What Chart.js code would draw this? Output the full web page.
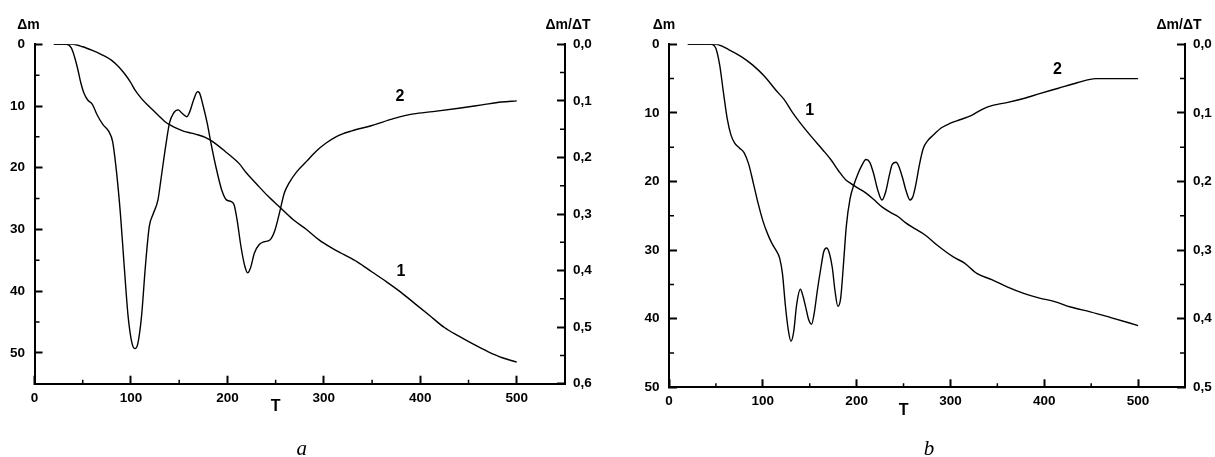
<!DOCTYPE html>
<html>
<head>
<meta charset="utf-8">
<script src="https://cdn.jsdelivr.net/npm/chart.js@4.4.1/dist/chart.umd.min.js"></script>
<style>
  body { margin: 0; background: #fff; width: 1215px; height: 457px; overflow: hidden; position: relative; }
  canvas { position: absolute; top: 0; }
</style>
</head>
<body>
<canvas id="chartA" width="610" height="457" style="left:0"></canvas>
<canvas id="chartB" width="605" height="457" style="left:610px"></canvas>
<script>
// ---- panel a ----
const tgTempA = [20, 40, 50, 60, 70, 80, 87, 93, 99, 105, 111, 117, 123, 129, 135, 141, 147, 155, 163, 170,
  177, 184, 191, 198, 205, 212, 220, 230, 242, 255, 268, 282, 295, 308, 321, 335, 350, 365, 380, 395,
  410, 425, 440, 455, 470, 485, 500];
const tgMassA = [0, 0, 0.4, 1.0, 1.7, 2.6, 3.6, 4.7, 6.0, 7.6, 8.8, 9.8, 10.7, 11.6, 12.5, 13.1, 13.6, 14.1, 14.4, 14.7,
  15.1, 15.7, 16.5, 17.4, 18.3, 19.3, 20.9, 22.6, 24.6, 26.5, 28.4, 30.0, 31.7, 33.0, 34.1, 35.3, 36.9, 38.5, 40.2, 42.1,
  44.0, 45.9, 47.3, 48.6, 49.8, 50.8, 51.5];
const dtgTempA = [20, 33, 38, 42, 45, 48, 51, 55, 60, 65, 71, 77, 81, 85, 89, 93, 97, 101, 104, 107,
  111, 115, 119, 123, 128, 131, 136, 140, 144, 149, 153, 158, 161, 165, 169, 171, 175, 179, 183, 188,
  194, 199, 204, 207, 210, 214, 218, 221, 224, 228, 233, 238, 244, 249, 254, 259, 264, 272, 282, 292,
  302, 313, 329, 349, 373, 393, 413, 440, 464, 484, 500];
const dtgRateA = [0, 0, 0.006, 0.025, 0.045, 0.068, 0.085, 0.098, 0.106, 0.125, 0.142, 0.154, 0.172, 0.225, 0.298, 0.392, 0.48, 0.528, 0.538, 0.53,
  0.48, 0.392, 0.322, 0.30, 0.275, 0.24, 0.18, 0.139, 0.122, 0.116, 0.122, 0.128, 0.119, 0.098, 0.084, 0.086, 0.11, 0.139, 0.175, 0.216,
  0.257, 0.275, 0.278, 0.284, 0.31, 0.357, 0.392, 0.404, 0.395, 0.369, 0.354, 0.349, 0.346, 0.33, 0.298, 0.263, 0.245, 0.225, 0.207, 0.189,
  0.175, 0.163, 0.153, 0.144, 0.131, 0.123, 0.119, 0.113, 0.107, 0.102, 0.100];

// ---- panel b ----
const tgTempB = [20, 50, 64, 77, 89, 102, 114, 123, 131, 139, 152, 164, 173, 181, 188, 194, 202, 210, 218, 227,
  236, 244, 252, 261, 273, 286, 303, 315, 328, 344, 361, 378, 395, 411, 428, 449, 470, 500];
const tgMassB = [0, 0, 0.8, 1.8, 3.0, 4.7, 6.7, 8.1, 9.8, 11.3, 13.5, 15.4, 16.9, 18.5, 19.7, 20.3, 21.0, 21.7, 22.6, 23.7,
  24.5, 25.1, 26.0, 26.8, 27.8, 29.3, 31.0, 31.9, 33.4, 34.3, 35.4, 36.3, 37.0, 37.5, 38.3, 39.0, 39.8, 41.0];
const dtgTempB = [20, 45, 50, 54, 58, 62, 66, 70, 75, 80, 85, 90, 95, 100, 105, 110, 114, 118, 121, 124,
  127, 130, 133, 136, 140, 143, 146, 149, 152, 155, 158, 162, 165, 168, 171, 174, 177, 180, 183, 186,
  189, 193, 197, 201, 205, 210, 214, 218, 222, 227, 231, 235, 238, 242, 245, 249, 253, 257, 260, 263,
  267, 271, 276, 282, 290, 300, 310, 322, 335, 345, 360, 378, 395, 415, 435, 455, 500];
const dtgRateB = [0, 0, 0.006, 0.03, 0.07, 0.108, 0.132, 0.144, 0.151, 0.158, 0.175, 0.203, 0.232, 0.257, 0.276, 0.291, 0.300, 0.312, 0.335, 0.38,
  0.415, 0.433, 0.418, 0.38, 0.357, 0.368, 0.385, 0.402, 0.408, 0.39, 0.36, 0.325, 0.302, 0.297, 0.305, 0.325, 0.36, 0.382, 0.37, 0.32,
  0.265, 0.225, 0.205, 0.19, 0.178, 0.168, 0.172, 0.188, 0.21, 0.227, 0.215, 0.19, 0.175, 0.172, 0.178, 0.195, 0.215, 0.227, 0.222, 0.205,
  0.175, 0.152, 0.14, 0.132, 0.122, 0.115, 0.11, 0.104, 0.094, 0.089, 0.085, 0.079, 0.072, 0.064, 0.056, 0.050, 0.050];

// ticks
const tempTicks = [0, 100, 200, 300, 400, 500];
const tempMinor = [50, 150, 250, 350, 450];
const massTicks = [0, 10, 20, 30, 40, 50];
const massMinorA = [5, 15, 25, 35, 45];
const massMinorB = [5, 15, 25, 35, 45];
const rateTicksA = [0, 0.1, 0.2, 0.3, 0.4, 0.5, 0.6];
const rateMinorA = [0.05, 0.15, 0.25, 0.35, 0.45, 0.55];
const rateTicksB = [0, 0.1, 0.2, 0.3, 0.4, 0.5];
const rateMinorB = [0.05, 0.15, 0.25, 0.35, 0.45];

const FONT = '"Liberation Sans", Arial, sans-serif';

const toPoints = (xs, ys) => xs.map((x, i) => ({ x: x, y: ys[i] }));

// minor ticks + free text (axis names, curve numbers, caption)
const decorations = {
  id: 'decorations',
  afterDraw(chart, args, o) {
    const ctx = chart.ctx;
    const { x, y, y2 } = chart.scales;
    ctx.save();
    ctx.strokeStyle = '#000';
    ctx.lineWidth = 1.5;
    ctx.beginPath();
    o.xMinor.forEach(v => { const p = x.getPixelForValue(v); ctx.moveTo(p, x.top); ctx.lineTo(p, x.top - 4); });
    o.yMinor.forEach(v => { const p = y.getPixelForValue(v); ctx.moveTo(y.right, p); ctx.lineTo(y.right + 5, p); });
    o.y2Minor.forEach(v => { const p = y2.getPixelForValue(v); ctx.moveTo(y2.left, p); ctx.lineTo(y2.left - 5, p); });
    ctx.stroke();

    ctx.fillStyle = '#000';
    ctx.textAlign = 'center';
    ctx.textBaseline = 'middle';
    ctx.font = 'bold 14px ' + FONT;
    ctx.fillText('Δm', y.right + o.leftTitleDx, 25);
    ctx.fillText('Δm/ΔT', y2.left + o.rightTitleDx, 25);
    ctx.font = 'bold 16px ' + FONT;
    ctx.fillText('T', x.getPixelForValue(250), x.top + 23);
    o.curveLabels.forEach(l => ctx.fillText(l.text, x.getPixelForValue(l.t), y.getPixelForValue(l.m)));
    ctx.font = 'italic 21px "Liberation Serif", "Times New Roman", serif';
    ctx.textBaseline = 'alphabetic';
    ctx.fillText(o.caption, (x.left + x.right) / 2 + 2, 455);
    ctx.restore();
  }
};

function makeChart(id, p) {
  const axisBase = {
    border: { display: true, color: '#000', width: 2 },
    grid: { drawOnChartArea: false, drawTicks: true, tickLength: -8, tickWidth: 2, tickColor: '#000' },
    ticks: { color: '#000', font: { family: FONT, size: 13.5, weight: 'bold' } }
  };
  return new Chart(document.getElementById(id), {
    type: 'line',
    data: {
      datasets: [
        { data: toPoints(p.tgT, p.tgM), yAxisID: 'y' },
        { data: toPoints(p.dtgT, p.dtgR), yAxisID: 'y2' }
      ]
    },
    options: {
      responsive: false,
      animation: false,
      layout: { padding: { top: 44.3, left: 0, right: 0, bottom: 0 } },
      elements: {
        point: { radius: 0 },
        line: { borderColor: '#000', borderWidth: 1.4, cubicInterpolationMode: 'monotone', fill: false }
      },
      plugins: {
        legend: { display: false },
        tooltip: { enabled: false },
        decorations: p.deco
      },
      scales: {
        x: {
          ...axisBase, type: 'linear', position: 'bottom', min: 0, max: 550,
          ticks: { ...axisBase.ticks, padding: 14, maxRotation: 0 },
          afterBuildTicks: s => { s.ticks = tempTicks.map(v => ({ value: v })); },
          afterFit: s => { s.height = p.xHeight; }
        },
        y: {
          ...axisBase, type: 'linear', position: 'left', reverse: true, min: 0, max: p.massMax,
          ticks: { ...axisBase.ticks, padding: 17.5 },
          afterBuildTicks: s => { s.ticks = massTicks.map(v => ({ value: v })); },
          afterFit: s => { s.width = p.leftWidth; }
        },
        y2: {
          ...axisBase, type: 'linear', position: 'right', reverse: true, min: 0, max: p.rateMax,
          ticks: { ...axisBase.ticks, padding: 16, callback: v => v.toFixed(1).replace('.', ',') },
          afterBuildTicks: s => { s.ticks = p.rateTicks.map(v => ({ value: v })); },
          afterFit: s => { s.width = p.rightWidth; }
        }
      }
    },
    plugins: [decorations]
  });
}

makeChart('chartA', {
  tgT: tgTempA, tgM: tgMassA, dtgT: dtgTempA, dtgR: dtgRateA,
  massMax: 55, rateMax: 0.6, rateTicks: rateTicksA,
  xHeight: 73.3, leftWidth: 34.5, rightWidth: 45,
  deco: {
    xMinor: tempMinor, yMinor: massMinorA, y2Minor: rateMinorA,
    leftTitleDx: -6, rightTitleDx: 3, caption: 'a',
    curveLabels: [{ text: '2', t: 379, m: 8.5 }, { text: '1', t: 380, m: 36.8 }]
  }
});

makeChart('chartB', {
  tgT: tgTempB, tgM: tgMassB, dtgT: dtgTempB, dtgR: dtgRateB,
  massMax: 50, rateMax: 0.5, rateTicks: rateTicksB,
  xHeight: 69.7, leftWidth: 59, rightWidth: 30,
  deco: {
    xMinor: tempMinor, yMinor: massMinorB, y2Minor: rateMinorB,
    leftTitleDx: -5, rightTitleDx: -6, caption: 'b',
    curveLabels: [{ text: '1', t: 150, m: 9.6 }, { text: '2', t: 414, m: 3.7 }]
  }
});
</script>
</body>
</html>
